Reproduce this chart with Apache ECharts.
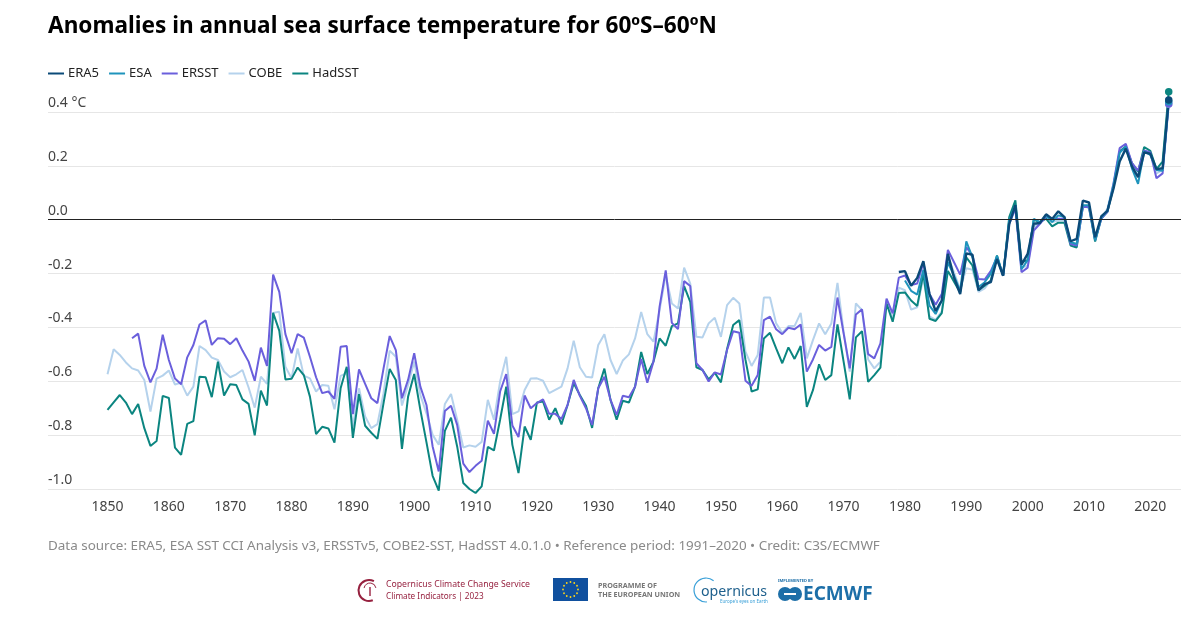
<!DOCTYPE html>
<html>
<head>
<meta charset="utf-8">
<title>Anomalies in annual sea surface temperature</title>
<style>
  html, body { margin: 0; padding: 0; background: #fff; }
  #chart { width: 1203px; height: 617px; }
</style>
<script src="https://cdn.jsdelivr.net/npm/echarts@6/dist/echarts.min.js"></script>
</head>
<body>
<div id="chart"></div>
<script>
var FONT = '"Noto Sans", sans-serif';

// each list runs up to 2023 from its own first year
var hadsstStart = 1850;
var hadsst = [
  -0.706,-0.678,-0.651,-0.679,-0.722,-0.684,-0.774,-0.840,-0.822,-0.654,
  -0.662,-0.846,-0.873,-0.758,-0.748,-0.583,-0.585,-0.659,-0.527,-0.653,
  -0.611,-0.614,-0.667,-0.684,-0.801,-0.635,-0.690,-0.346,-0.412,-0.593,
  -0.591,-0.549,-0.577,-0.657,-0.796,-0.769,-0.775,-0.828,-0.626,-0.546,
  -0.810,-0.648,-0.765,-0.791,-0.814,-0.681,-0.554,-0.595,-0.851,-0.657,
  -0.573,-0.706,-0.827,-0.951,-1.006,-0.784,-0.735,-0.842,-0.978,-1.000,
  -1.015,-0.990,-0.844,-0.857,-0.743,-0.620,-0.836,-0.941,-0.768,-0.817,
  -0.679,-0.675,-0.743,-0.700,-0.760,-0.688,-0.607,-0.651,-0.691,-0.773,
  -0.626,-0.553,-0.669,-0.743,-0.672,-0.679,-0.620,-0.491,-0.573,-0.527,
  -0.441,-0.468,-0.395,-0.385,-0.247,-0.305,-0.548,-0.558,-0.593,-0.568,
  -0.604,-0.480,-0.391,-0.373,-0.520,-0.638,-0.630,-0.441,-0.420,-0.478,
  -0.533,-0.474,-0.517,-0.469,-0.695,-0.633,-0.537,-0.595,-0.577,-0.389,
  -0.527,-0.667,-0.437,-0.414,-0.602,-0.577,-0.549,-0.311,-0.379,-0.272,
  -0.270,-0.300,-0.320,-0.200,-0.368,-0.376,-0.347,-0.190,-0.230,-0.270,
  -0.140,-0.170,-0.262,-0.245,-0.226,-0.133,-0.208,0.010,0.072,-0.158,
  -0.150,0.000,-0.009,0.004,-0.025,-0.011,-0.011,-0.096,-0.103,0.050,
  0.045,-0.081,0.004,0.029,0.122,0.254,0.272,0.210,0.179,0.270,
  0.256,0.188,0.216,0.475
];
var cobeStart = 1850;
var cobe = [
  -0.574,-0.481,-0.502,-0.530,-0.552,-0.560,-0.595,-0.712,-0.590,-0.579,
  -0.560,-0.612,-0.605,-0.653,-0.620,-0.469,-0.484,-0.512,-0.521,-0.564,
  -0.585,-0.574,-0.558,-0.623,-0.698,-0.583,-0.610,-0.346,-0.342,-0.546,
  -0.589,-0.478,-0.579,-0.589,-0.638,-0.614,-0.617,-0.704,-0.580,-0.570,
  -0.768,-0.626,-0.731,-0.774,-0.759,-0.644,-0.486,-0.509,-0.690,-0.614,
  -0.527,-0.651,-0.719,-0.799,-0.836,-0.684,-0.647,-0.743,-0.846,-0.838,
  -0.843,-0.825,-0.669,-0.743,-0.601,-0.509,-0.722,-0.712,-0.632,-0.590,
  -0.589,-0.598,-0.644,-0.632,-0.620,-0.552,-0.449,-0.548,-0.583,-0.586,
  -0.465,-0.425,-0.521,-0.573,-0.523,-0.500,-0.441,-0.343,-0.425,-0.453,
  -0.336,-0.206,-0.311,-0.330,-0.178,-0.237,-0.435,-0.437,-0.385,-0.364,
  -0.435,-0.317,-0.290,-0.311,-0.490,-0.543,-0.502,-0.289,-0.289,-0.385,
  -0.420,-0.395,-0.395,-0.346,-0.515,-0.447,-0.385,-0.425,-0.385,-0.235,
  -0.416,-0.564,-0.311,-0.336,-0.519,-0.552,-0.527,-0.299,-0.367,-0.252,
  -0.262,-0.334,-0.325,-0.215,-0.359,-0.372,-0.340,-0.140,-0.196,-0.259,
  -0.180,-0.186,-0.268,-0.255,-0.224,-0.140,-0.208,0.004,0.047,-0.178,
  -0.171,-0.027,-0.009,0.010,-0.009,-0.003,-0.003,-0.084,-0.090,0.050,
  0.050,-0.071,0.004,0.041,0.135,0.254,0.266,0.204,0.166,0.257,
  0.245,0.172,0.185,0.430
];
var ersstStart = 1854;
var ersst = [
  -0.440,-0.423,-0.543,-0.604,-0.553,-0.427,
  -0.521,-0.590,-0.611,-0.511,-0.465,-0.389,-0.374,-0.465,-0.440,-0.442,
  -0.462,-0.440,-0.486,-0.527,-0.598,-0.475,-0.543,-0.204,-0.268,-0.425,
  -0.496,-0.425,-0.438,-0.509,-0.585,-0.644,-0.638,-0.665,-0.472,-0.469,
  -0.722,-0.556,-0.610,-0.663,-0.681,-0.552,-0.432,-0.484,-0.663,-0.595,
  -0.496,-0.620,-0.688,-0.842,-0.935,-0.710,-0.691,-0.762,-0.906,-0.937,
  -0.914,-0.895,-0.746,-0.795,-0.638,-0.573,-0.764,-0.807,-0.653,-0.700,
  -0.681,-0.667,-0.721,-0.721,-0.740,-0.688,-0.595,-0.654,-0.700,-0.762,
  -0.626,-0.583,-0.669,-0.725,-0.654,-0.659,-0.620,-0.517,-0.605,-0.527,
  -0.323,-0.188,-0.383,-0.406,-0.228,-0.246,-0.533,-0.558,-0.601,-0.567,
  -0.575,-0.484,-0.414,-0.420,-0.598,-0.617,-0.577,-0.373,-0.360,-0.407,
  -0.425,-0.401,-0.407,-0.389,-0.564,-0.519,-0.465,-0.486,-0.472,-0.289,
  -0.422,-0.552,-0.352,-0.333,-0.499,-0.515,-0.459,-0.293,-0.348,-0.215,
  -0.207,-0.243,-0.237,-0.160,-0.276,-0.316,-0.276,-0.112,-0.158,-0.204,
  -0.102,-0.133,-0.220,-0.222,-0.190,-0.140,-0.208,-0.015,0.041,-0.195,
  -0.178,-0.040,-0.015,0.012,0.004,0.004,0.004,-0.090,-0.096,0.047,
  0.047,-0.075,0.004,0.029,0.135,0.266,0.282,0.210,0.182,0.257,
  0.250,0.154,0.172,0.430
];
var esaStart = 1980;
var esa = [
  -0.226,-0.264,-0.278,-0.186,-0.319,-0.350,-0.300,-0.158,-0.208,-0.265,
  -0.080,-0.140,-0.250,-0.232,-0.200,-0.134,-0.208,-0.002,0.054,-0.184,
  -0.150,0.003,-0.009,0.016,-0.009,0.016,0.010,-0.084,-0.090,0.054,
  0.054,-0.077,0.008,0.033,0.129,0.248,0.272,0.191,0.133,0.254,
  0.241,0.185,0.182,0.438
];
var era5Start = 1979;
var era5 = [
  -0.194,
  -0.191,-0.245,-0.216,-0.154,-0.276,-0.339,-0.300,-0.127,-0.215,-0.276,
  -0.125,-0.130,-0.262,-0.239,-0.232,-0.146,-0.208,-0.015,0.054,-0.167,
  -0.127,-0.015,-0.012,0.020,0.003,0.031,0.010,-0.080,-0.071,0.071,
  0.064,-0.065,0.012,0.033,0.116,0.216,0.264,0.198,0.158,0.250,
  0.245,0.188,0.191,0.445
];
var xTicks = [1850,1860,1870,1880,1890,1900,1910,1920,1930,1940,1950,1960,1970,1980,1990,2000,2010,2020];
var yTicks = [-1.0,-0.8,-0.6,-0.4,-0.2,0.0,0.2,0.4];
var legendNames = ['ERA5','ESA','ERSST','COBE','HadSST'];

var titleText = 'Anomalies in annual sea surface temperature for 60ºS–60ºN';
var sourceText = 'Data source: ERA5, ESA SST CCI Analysis v3, ERSSTv5, COBE2-SST, HadSST 4.0.1.0 • Reference period: 1991–2020 • Credit: C3S/ECMWF';

function toPairs(start, values) {
  return values.map(function (v, i) { return [start + i, v]; });
}

function lineSeries(name, color, width, start, values) {
  var last = values.length - 1;
  return {
    name: name,
    type: 'line',
    data: toPairs(start, values),
    clip: false,
    silent: true,
    symbol: 'circle',
    showSymbol: true,
    showAllSymbol: true,
    symbolSize: function (v, p) { return p.dataIndex === last ? 7.5 : 0; },
    itemStyle: { color: color },
    lineStyle: { color: color, width: width },
    emphasis: { disabled: true }
  };
}

var chart = echarts.init(document.getElementById('chart'), null, { renderer: 'canvas' });

// bottom row of logos, just text and plain shapes
function stars() {
  var out = [];
  for (var i = 0; i < 12; i++) {
    var a = i * Math.PI / 6;
    out.push({
      type: 'circle',
      shape: { cx: 570.5 + 7.5 * Math.cos(a), cy: 589.5 + 7.5 * Math.sin(a), r: 0.9 },
      style: { fill: '#ffd617' }
    });
  }
  return out;
}

var logos = [
  { type: 'arc', shape: { cx: 369, cy: 590.5, r: 10.5, startAngle: 1.2, endAngle: 5.2 },
    style: { stroke: '#96213f', lineWidth: 2, fill: null } },
  { type: 'arc', shape: { cx: 370, cy: 589, r: 6, startAngle: 3.3, endAngle: 6.1 },
    style: { stroke: '#96213f', lineWidth: 1, fill: null } },
  { type: 'rect', shape: { x: 369, y: 587, width: 2, height: 9 }, style: { fill: '#b8637a' } },
  { type: 'text', x: 386, y: 584.5, style: { text: 'Copernicus Climate Change Service', font: '8.7px ' + FONT, fill: '#96213f', verticalAlign: 'middle' } },
  { type: 'text', x: 386, y: 596.5, style: { text: 'Climate Indicators | 2023', font: '8.2px ' + FONT, fill: '#96213f', verticalAlign: 'middle' } },
  { type: 'rect', shape: { x: 553, y: 578, width: 35, height: 23 }, style: { fill: '#10509e' } },
  { type: 'text', x: 598, y: 586, style: { text: 'PROGRAMME OF', font: 'bold 7.2px ' + FONT, fill: '#777', verticalAlign: 'middle' } },
  { type: 'text', x: 598, y: 594.5, style: { text: 'THE EUROPEAN UNION', font: 'bold 7.2px ' + FONT, fill: '#777', verticalAlign: 'middle' } },
  { type: 'arc', shape: { cx: 706, cy: 590, r: 12, startAngle: 1.5, endAngle: 5.4 },
    style: { stroke: '#3aa0d8', lineWidth: 1.2, fill: null } },
  { type: 'text', x: 701, y: 592, style: { text: 'opernicus', font: '14.2px ' + FONT, fill: '#1d5f8c', verticalAlign: 'middle' } },
  { type: 'text', x: 720, y: 602, style: { text: "Europe's eyes on Earth", font: '4.5px ' + FONT, fill: '#3aa0d8', verticalAlign: 'middle' } },
  { type: 'text', x: 778, y: 581, style: { text: 'IMPLEMENTED BY', font: 'bold 4px ' + FONT, fill: '#1d6fa8', verticalAlign: 'middle' } },
  { type: 'circle', shape: { cx: 785, cy: 594, r: 7 }, style: { fill: '#1d6fa8' } },
  { type: 'circle', shape: { cx: 795, cy: 594, r: 7 }, style: { fill: '#1d6fa8' } },
  { type: 'rect', shape: { x: 784, y: 593, width: 12, height: 2 }, style: { fill: '#fff' } },
  { type: 'text', x: 803, y: 594.5, style: { text: 'ECMWF', font: 'bold 19px ' + FONT, fill: '#1d6fa8', verticalAlign: 'middle' } }
].concat(stars());

var option = {
  animation: false,
  backgroundColor: '#fff',
  textStyle: { fontFamily: FONT },
  title: {
    text: titleText,
    left: 48,
    top: 15,
    padding: 0,
    textStyle: { fontFamily: FONT, fontSize: 22.6, fontWeight: 'bold', color: '#000' }
  },
  legend: {
    data: legendNames,
    left: 48,
    top: 67,
    padding: 0,
    icon: 'rect',
    itemWidth: 16,
    itemHeight: 2,
    itemGap: 10,
    selectedMode: false,
    textStyle: { fontFamily: FONT, fontSize: 13, color: '#222', padding: [0, 0, 0, -1] }
  },
  grid: { left: 48, right: 22, top: 112, height: 377 },
  xAxis: {
    type: 'value',
    min: 1840.3,
    max: 2025,
    axisLine: { show: false },
    axisTick: { show: false },
    splitLine: { show: false },
    axisLabel: {
      customValues: xTicks,
      formatter: function (v) { return String(v); },
      fontFamily: FONT, fontSize: 14, color: '#444', margin: 11
    }
  },
  yAxis: {
    type: 'value',
    min: -1.0,
    max: 0.4,
    interval: 0.2,
    axisLine: { show: false },
    axisTick: { show: false },
    splitLine: { show: true, lineStyle: { color: '#e6e6e6', width: 1 } },
    axisLabel: {
      inside: true,
      margin: 0,
      verticalAlign: 'bottom',
      customValues: yTicks,
      formatter: function (v) {
        var s = v.toFixed(1);
        return v > 0.39 ? s + ' °C' : s;
      },
      fontFamily: FONT, fontSize: 14, color: '#444', padding: [0, 0, 2, 0]
    }
  },
  series: [
    lineSeries('COBE', '#b5d2ec', 2, cobeStart, cobe),
    lineSeries('HadSST', '#0b8580', 2, hadsstStart, hadsst),
    lineSeries('ERSST', '#6a5fdc', 2, ersstStart, ersst),
    lineSeries('ESA', '#1f94bc', 2, esaStart, esa),
    lineSeries('ERA5', '#0b4a78', 2.4, era5Start, era5)
  ],
  graphic: [
    { type: 'text', x: 48, y: 546, style: { text: sourceText, font: '13.45px ' + FONT, fill: '#8a8a8a', verticalAlign: 'middle' } },
    { type: 'group', children: logos }
  ]
};

// zero line goes on the first series so it sits under the data
option.series[0].markLine = {
  silent: true,
  symbol: 'none',
  label: { show: false },
  lineStyle: { color: '#222', width: 1, type: 'solid' },
  data: [{ yAxis: 0 }]
};

chart.setOption(option);
window.addEventListener('resize', function () { chart.resize(); });
</script>
</body>
</html>
